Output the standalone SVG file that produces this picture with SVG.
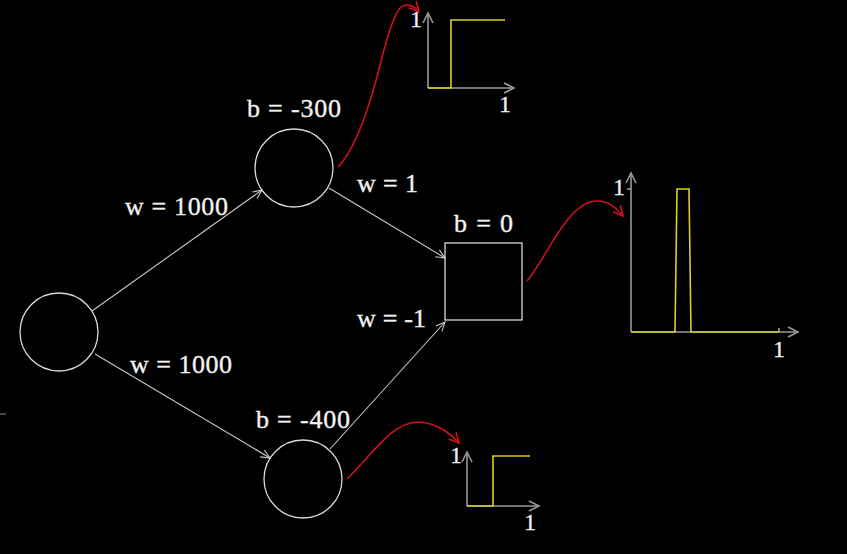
<svg xmlns="http://www.w3.org/2000/svg" width="847" height="554" viewBox="0 0 847 554">
<defs>
<style>
.node{fill:none;stroke:#d8d8d8;stroke-width:1.3}
.edge{fill:none;stroke:#c8c8c8;stroke-width:1.1}
.red{fill:none;stroke:#d0101c;stroke-width:1.6}
.axis{fill:none;stroke:#9a9a9a;stroke-width:1.6}
.sig{fill:none;stroke:#d6d21e;stroke-width:1.6}
.lbl{font-family:"Liberation Serif","Times New Roman",serif;font-size:26px;fill:#f2f2f2;stroke:#f2f2f2;stroke-width:0.35}
.num{font-family:"Liberation Serif","Times New Roman",serif;font-size:24px;fill:#f2f2f2;stroke:#f2f2f2;stroke-width:0.3}
</style>
<marker id="ah" markerWidth="12" markerHeight="12" refX="10" refY="5" orient="auto" markerUnits="userSpaceOnUse">
<path d="M1,1 L10,5 L1,9" fill="none" stroke="#c8c8c8" stroke-width="1.1"/>
</marker>
<marker id="ahr" markerWidth="14" markerHeight="14" refX="11" refY="6" orient="auto" markerUnits="userSpaceOnUse">
<path d="M1,1 L11,6 L1,11" fill="none" stroke="#d0101c" stroke-width="1.6"/>
</marker>
<marker id="aha" markerWidth="14" markerHeight="14" refX="11" refY="6" orient="auto" markerUnits="userSpaceOnUse">
<path d="M1,1 L11,6 L1,11" fill="none" stroke="#9a9a9a" stroke-width="1.6"/>
</marker>
</defs>
<rect x="0" y="0" width="847" height="554" fill="#000"/>
<line x1="0" y1="414" x2="6" y2="414" stroke="#888" stroke-width="1"/>

<g id="connectors">
<line class="edge" x1="92" y1="311" x2="262" y2="190" marker-end="url(#ah)"/>
<line class="edge" x1="95" y1="354" x2="270" y2="458" marker-end="url(#ah)"/>
<line class="edge" x1="329" y1="188" x2="445" y2="258" marker-end="url(#ah)"/>
<line class="edge" x1="330" y1="449" x2="445" y2="322" marker-end="url(#ah)"/>
<path class="red" d="M338,167 C355,150 368,110 377,77 C385,45 392,18 400,8 C405,3 412,4 419,12" marker-end="url(#ahr)"/>
<path class="red" d="M527,281 C548,256 568,201 597,201 C610,201 617,209 623,216" marker-end="url(#ahr)"/>
<path class="red" d="M347,479 C372,455 392,422 418,422 C435,422 450,433 459,443" marker-end="url(#ahr)"/>
</g>

<g id="input">
<circle class="node" cx="59" cy="332" r="39"/>
</g>
<g id="hidden-top">
<circle class="node" cx="294" cy="168" r="39"/>
<text class="lbl" x="247" y="117" textLength="94" lengthAdjust="spacing">b = -300</text>
</g>
<g id="hidden-bottom">
<circle class="node" cx="303" cy="479" r="39"/>
<text class="lbl" x="256" y="428" textLength="94" lengthAdjust="spacing">b = -400</text>
</g>
<g id="output">
<rect class="node" x="445" y="243" width="77" height="77"/>
<text class="lbl" x="454" y="232" textLength="59" lengthAdjust="spacing">b = 0</text>
</g>

<g id="edge-labels">
<text class="lbl" x="125" y="215" textLength="103" lengthAdjust="spacing">w = 1000</text>
<text class="lbl" x="130" y="373" textLength="102" lengthAdjust="spacing">w = 1000</text>
<text class="lbl" x="357" y="192" textLength="61" lengthAdjust="spacing">w = 1</text>
<text class="lbl" x="357" y="327" textLength="69" lengthAdjust="spacing">w = -1</text>
</g>

<g id="plot-top">
<line class="axis" x1="428" y1="88" x2="428" y2="13" marker-end="url(#aha)"/>
<line class="axis" x1="428" y1="88" x2="514" y2="88" marker-end="url(#aha)"/>
<polyline class="sig" points="428,88 451,88 451,20 505,20"/>
<text class="num" x="416" y="27" text-anchor="middle">1</text>
<text class="num" x="505" y="112" text-anchor="middle">1</text>
</g>

<g id="plot-middle">
<line class="axis" x1="631" y1="332" x2="631" y2="173" marker-end="url(#aha)"/>
<line class="axis" x1="631" y1="332" x2="798" y2="332" marker-end="url(#aha)"/>
<line class="axis" x1="627" y1="189" x2="631" y2="189"/>
<line class="axis" x1="779" y1="328" x2="779" y2="332"/>
<polyline class="sig" points="631,332 675,332 677,189 689,189 691,332 779,332"/>
<text class="num" x="619" y="195" text-anchor="middle">1</text>
<text class="num" x="779" y="357" text-anchor="middle">1</text>
</g>

<g id="plot-bottom">
<line class="axis" x1="467" y1="506" x2="467" y2="452" marker-end="url(#aha)"/>
<line class="axis" x1="467" y1="506" x2="539" y2="506" marker-end="url(#aha)"/>
<polyline class="sig" points="467,506 493,506 493,456 530,456"/>
<text class="num" x="456" y="463" text-anchor="middle">1</text>
<text class="num" x="530" y="530" text-anchor="middle">1</text>
</g>
</svg>
